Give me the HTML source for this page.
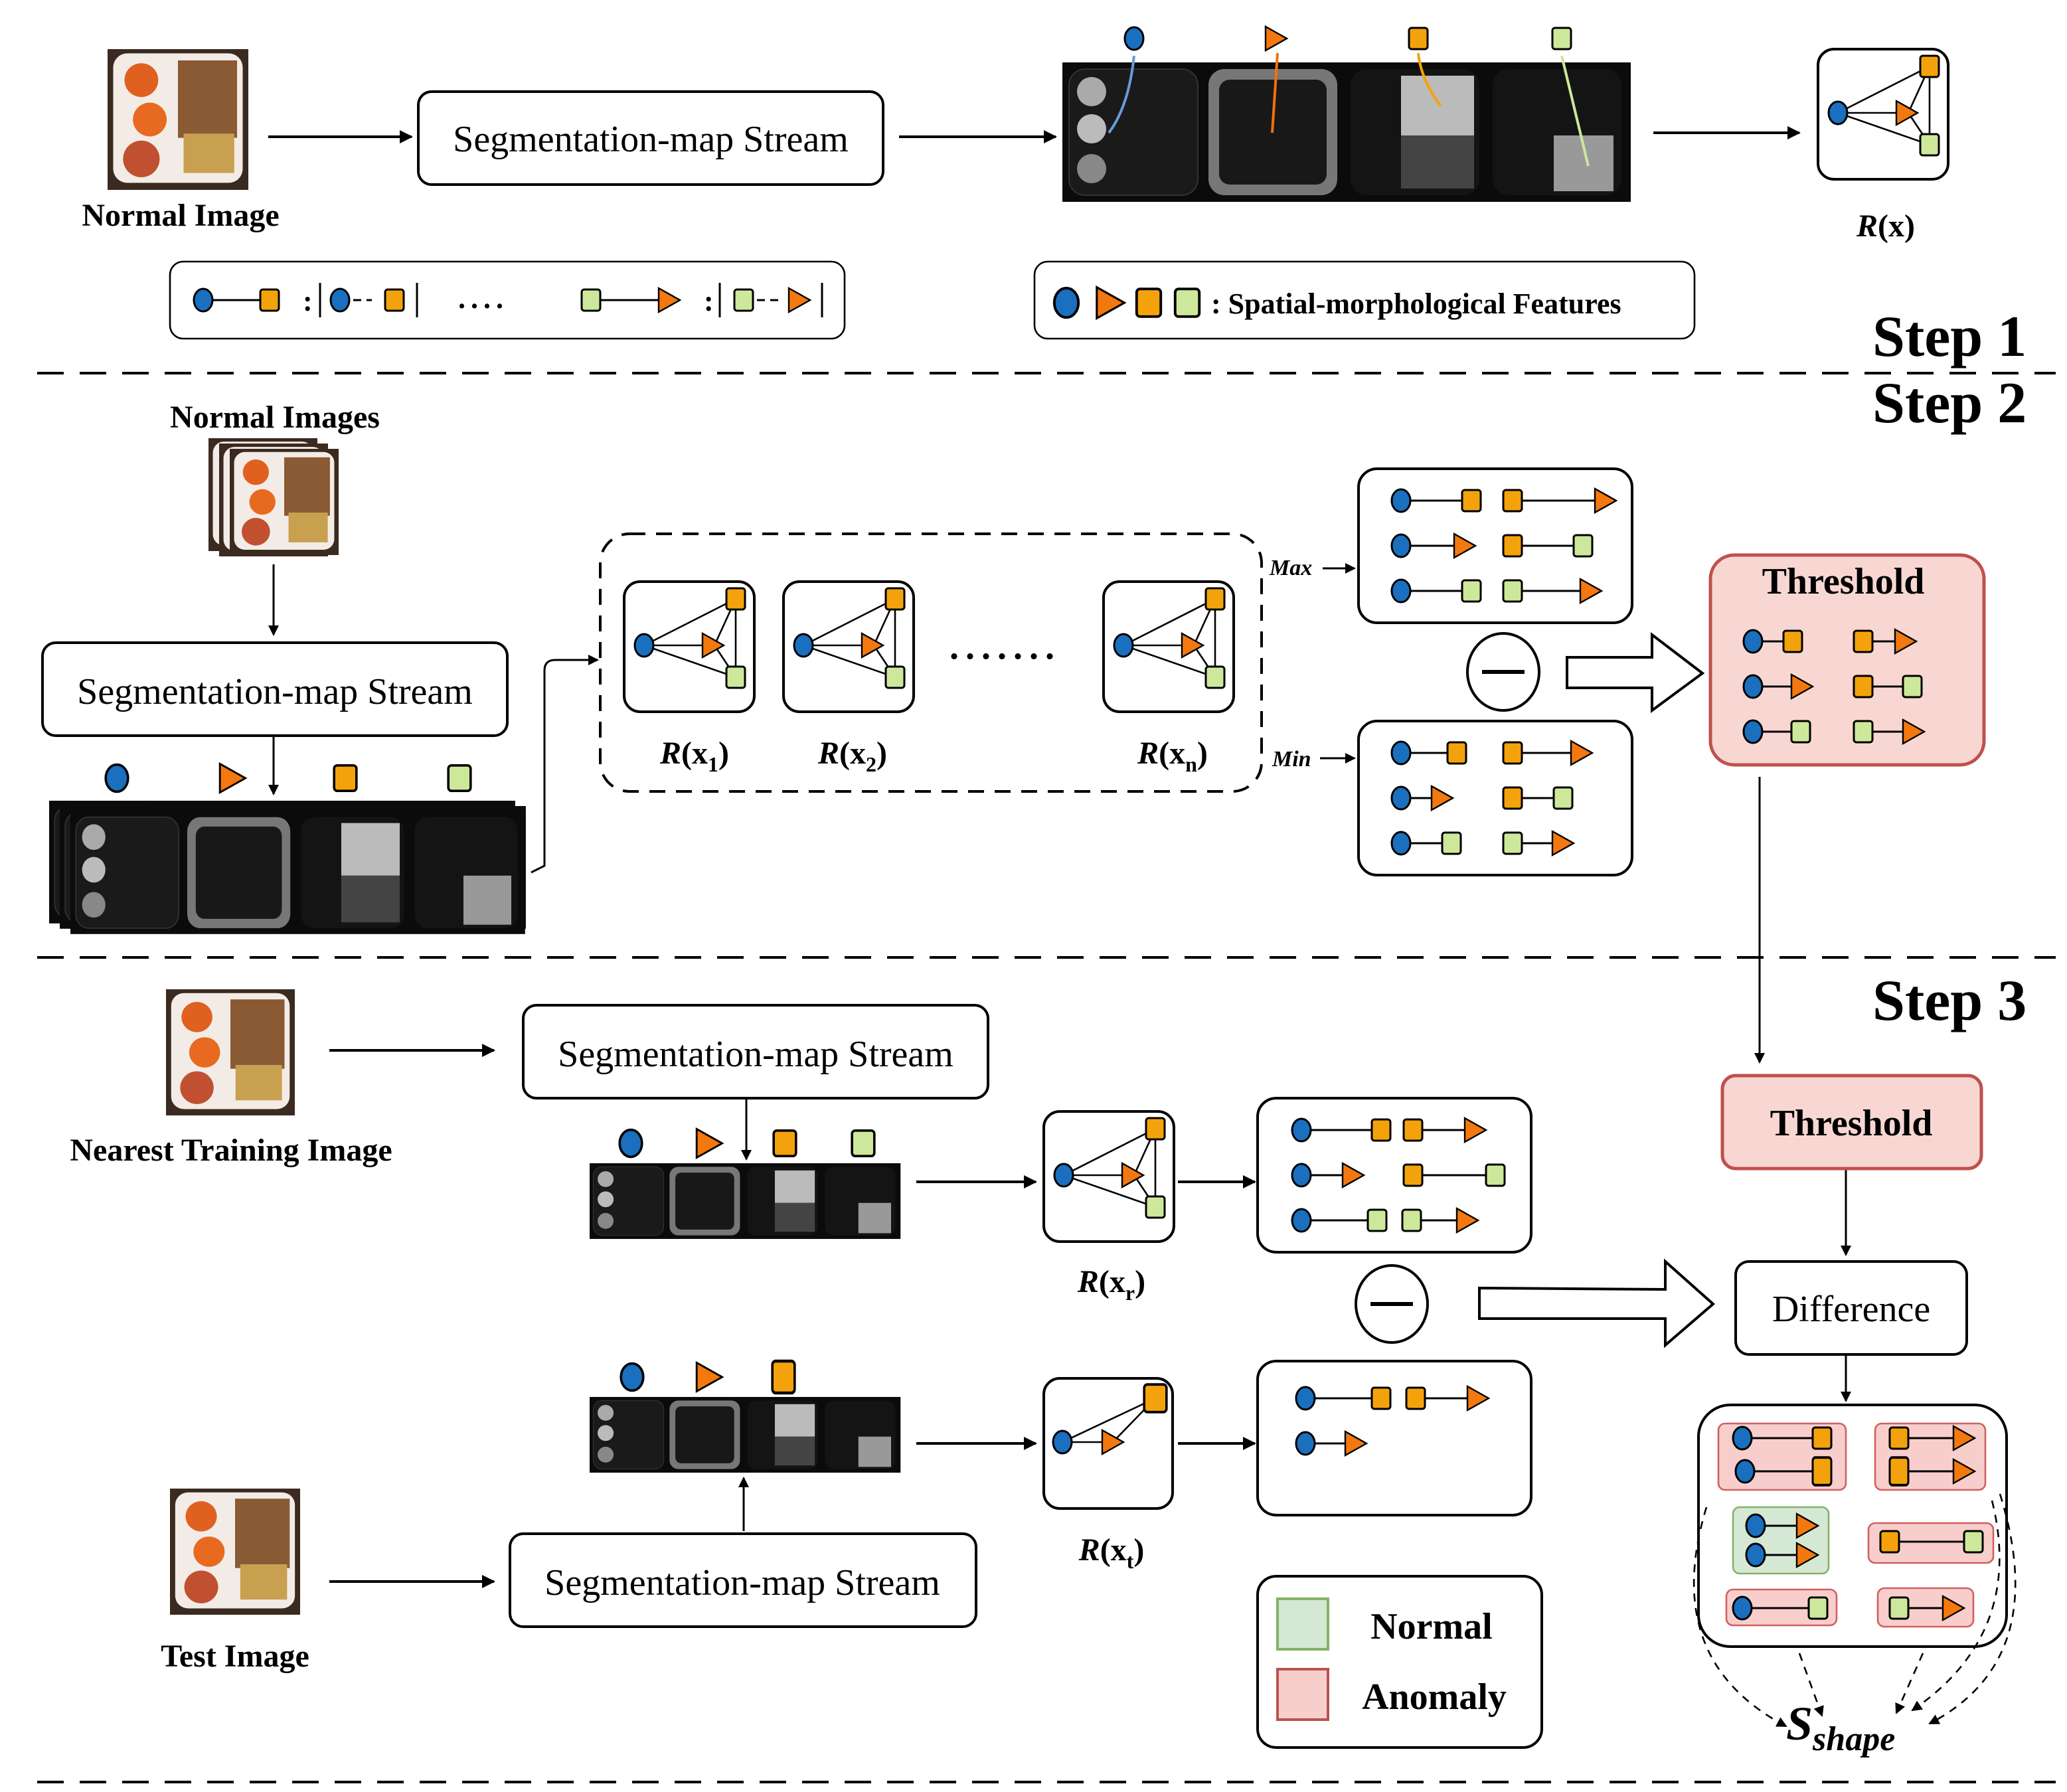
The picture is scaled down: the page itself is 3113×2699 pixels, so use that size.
<!DOCTYPE html>
<html><head><meta charset="utf-8"><style>html,body{margin:0;padding:0;background:#fff}svg{display:block}</style></head><body>
<svg xmlns="http://www.w3.org/2000/svg" width="3113" height="2699" viewBox="0 0 1556.5 1349.5" font-family="'Liberation Serif',serif">
<defs>
<marker id="ah" markerWidth="10" markerHeight="10" refX="9" refY="5" orient="auto" markerUnits="userSpaceOnUse"><path d="M0,0 L10,5 L0,10Z" fill="#000"/></marker>
<marker id="ahs" markerWidth="8" markerHeight="8" refX="7" refY="4" orient="auto" markerUnits="userSpaceOnUse"><path d="M0,0 L8,4 L0,8Z" fill="#000"/></marker>
<g id="c"><ellipse rx="7" ry="8.5" fill="#1a6fbf" stroke="#000" stroke-width="1.5"/></g>
<g id="o"><rect x="-7" y="-8" width="14" height="16" rx="2" fill="#f4a20c" stroke="#000" stroke-width="1.5"/></g>
<g id="g"><rect x="-7" y="-8" width="14" height="16" rx="2" fill="#cde89a" stroke="#000" stroke-width="1.5"/></g>
<g id="t"><path d="M-7,-9 L9,0 L-7,9Z" fill="#f3780f" stroke="#000" stroke-width="1.2"/></g>
<g id="G"><rect x="0" y="0" width="98" height="98" rx="12" fill="#fff" stroke="#000" stroke-width="2"/>
<g stroke="#000" stroke-width="1.3"><line x1="15" y1="48" x2="84" y2="13"/><line x1="15" y1="48" x2="84" y2="72"/><line x1="15" y1="48" x2="60" y2="48"/><line x1="84" y1="13" x2="84" y2="72"/><line x1="84" y1="13" x2="68" y2="48"/><line x1="68" y1="48" x2="84" y2="72"/></g>
<use href="#c" x="15" y="48"/><use href="#t" x="66" y="48"/><use href="#o" x="84" y="13"/><use href="#g" x="84" y="72"/></g>
<g id="food"><rect x="0" y="0" width="100" height="100" fill="#3a2a20"/><rect x="4" y="3" width="92" height="92" rx="10" fill="#f3ece6"/><rect x="50" y="8" width="42" height="55" fill="#8a5a35"/><rect x="54" y="60" width="36" height="28" fill="#c9a050"/><circle cx="24" cy="22" r="12" fill="#e06020"/><circle cx="30" cy="50" r="12" fill="#e86a20"/><circle cx="24" cy="78" r="13" fill="#c05030"/></g>
<g id="strip4"><rect x="0" y="0" width="428" height="105" fill="#0b0b0b"/><rect x="5" y="5" width="97" height="95" rx="12" fill="#1a1a1a" stroke="#333"/><circle cx="22" cy="22" r="11" fill="#aaa"/><circle cx="22" cy="50" r="11" fill="#bbb"/><circle cx="22" cy="80" r="11" fill="#888"/><rect x="110" y="5" width="97" height="95" rx="12" fill="#777"/><rect x="118" y="13" width="81" height="79" rx="8" fill="#181818"/><rect x="217" y="5" width="97" height="95" rx="12" fill="#141414"/><rect x="255" y="10" width="55" height="45" fill="#bbb"/><rect x="255" y="55" width="55" height="40" fill="#444"/><rect x="324" y="5" width="97" height="95" rx="12" fill="#141414"/><rect x="370" y="55" width="45" height="42" fill="#999"/></g>
</defs>

<g stroke="#000" stroke-width="2" stroke-dasharray="20,12"><line x1="28" y1="281" x2="1548" y2="281"/><line x1="28" y1="721" x2="1548" y2="721"/><line x1="28" y1="1342" x2="1548" y2="1342"/></g>
<g font-weight="bold" font-size="44"><text x="1410" y="268">Step 1</text><text x="1410" y="318">Step 2</text><text x="1410" y="768">Step 3</text></g>

<!-- STEP 1 -->
<use href="#food" transform="translate(81,37) scale(1.06)"/>
<text x="136" y="170" font-size="24" font-weight="bold" text-anchor="middle">Normal Image</text>
<g stroke="#000" stroke-width="2" marker-end="url(#ah)"><line x1="202" y1="103" x2="310" y2="103"/><line x1="677" y1="103" x2="795" y2="103"/><line x1="1245" y1="100" x2="1355" y2="100"/></g>
<rect x="315" y="69" width="350" height="70" rx="10" fill="#fff" stroke="#000" stroke-width="2"/>
<text x="490" y="114" font-size="28" text-anchor="middle">Segmentation-map Stream</text>
<use href="#strip4" x="800" y="47"/>
<path d="M835,100 Q850,80 854,42" stroke="#6a9ad8" stroke-width="2" fill="none"/>
<path d="M958,100 L962,40" stroke="#f07010" stroke-width="2" fill="none"/>
<path d="M1085,80 Q1070,60 1068,40" stroke="#f4a20c" stroke-width="2" fill="none"/>
<path d="M1196,125 L1176,42" stroke="#cde89a" stroke-width="2" fill="none"/>
<use href="#c" x="854" y="29"/><use href="#t" x="960" y="29"/><use href="#o" x="1068" y="29"/><use href="#g" x="1176" y="29"/>
<use href="#G" x="1369" y="37"/>
<text x="1420" y="178" font-size="24" font-weight="bold" text-anchor="middle"><tspan font-style="italic">R</tspan>(x)</text>
<rect x="128" y="197" width="508" height="58" rx="10" fill="#fff" stroke="#000" stroke-width="1.3"/>
<g stroke="#000" stroke-width="1.5"><line x1="153" y1="226" x2="203" y2="226"/><line x1="256" y1="226" x2="280" y2="226" stroke-dasharray="6,4"/><line x1="241" y1="213" x2="241" y2="239"/><line x1="314" y1="213" x2="314" y2="239"/><line x1="445" y1="226" x2="505" y2="226"/><line x1="560" y1="226" x2="590" y2="226" stroke-dasharray="6,4"/><line x1="542" y1="213" x2="542" y2="239"/><line x1="619" y1="213" x2="619" y2="239"/></g>
<use href="#c" x="153" y="226"/><use href="#o" x="203" y="226"/><use href="#c" x="256" y="226"/><use href="#o" x="297" y="226"/><use href="#g" x="445" y="226"/><use href="#t" x="503" y="226"/><use href="#g" x="560" y="226"/><use href="#t" x="601" y="226"/>
<text x="228" y="234" font-size="22" font-weight="bold">:</text><text x="530" y="234" font-size="22" font-weight="bold">:</text>
<text x="345" y="232" font-size="22" font-weight="bold" letter-spacing="4">....</text>
<rect x="779" y="197" width="497" height="58" rx="10" fill="#fff" stroke="#000" stroke-width="1.3"/>
<use href="#c" transform="translate(803,228) scale(1.3)"/><use href="#t" transform="translate(835,228) scale(1.3)"/><use href="#o" transform="translate(865,228) scale(1.3)"/><use href="#g" transform="translate(894,228) scale(1.3)"/>
<text x="912" y="236" font-size="22" font-weight="bold">: Spatial-morphological Features</text>

<!-- STEP 2 -->
<text x="207" y="322" font-size="24" font-weight="bold" text-anchor="middle">Normal Images</text>
<use href="#food" transform="translate(157,330) scale(0.82,0.85)"/>
<use href="#food" transform="translate(165,334) scale(0.82,0.85)"/>
<use href="#food" transform="translate(173,338) scale(0.82,0.8)"/>
<g stroke="#000" stroke-width="1.5" marker-end="url(#ahs)"><line x1="206" y1="425" x2="206" y2="478"/><line x1="206" y1="554" x2="206" y2="598"/></g>
<rect x="32" y="484" width="350" height="70" rx="10" fill="#fff" stroke="#000" stroke-width="2"/>
<text x="207" y="530" font-size="28" text-anchor="middle">Segmentation-map Stream</text>
<use href="#strip4" transform="translate(37,603) scale(0.82,0.88)"/>
<use href="#strip4" transform="translate(45,607) scale(0.82,0.88)"/>
<use href="#strip4" transform="translate(53,611) scale(0.8,0.88)"/>
<use href="#c" transform="translate(88,586) scale(1.2)"/><use href="#t" transform="translate(174,586) scale(1.2)"/><use href="#o" transform="translate(260,586) scale(1.2)"/><use href="#g" transform="translate(346,586) scale(1.2)"/>
<path d="M400,657 L410,652 L410,505 Q410,497 418,497 L450,497" stroke="#000" stroke-width="1.5" fill="none" marker-end="url(#ahs)"/>
<rect x="452" y="402" width="498" height="194" rx="22" fill="none" stroke="#000" stroke-width="2" stroke-dasharray="12,8"/>
<use href="#G" x="470" y="438"/><use href="#G" x="590" y="438"/><use href="#G" x="831" y="438"/>
<text x="715" y="496" font-size="28" font-weight="bold" letter-spacing="5">.......</text>
<g font-size="24" font-weight="bold" text-anchor="middle"><text x="523" y="575"><tspan font-style="italic">R</tspan>(x<tspan font-size="16" dy="6">1</tspan><tspan dy="-6">)</tspan></text><text x="642" y="575"><tspan font-style="italic">R</tspan>(x<tspan font-size="16" dy="6">2</tspan><tspan dy="-6">)</tspan></text><text x="883" y="575"><tspan font-style="italic">R</tspan>(x<tspan font-size="16" dy="6">n</tspan><tspan dy="-6">)</tspan></text></g>
<text x="956" y="433" font-size="17" font-style="italic" font-weight="bold">Max</text><text x="958" y="577" font-size="17" font-style="italic" font-weight="bold">Min</text>
<g stroke="#000" stroke-width="1.5" marker-end="url(#ahs)"><line x1="996" y1="428" x2="1020" y2="428"/><line x1="994" y1="571" x2="1020" y2="571"/></g>
<rect x="1023" y="353" width="206" height="116" rx="14" fill="#fff" stroke="#000" stroke-width="2"/>
<rect x="1023" y="543" width="206" height="116" rx="14" fill="#fff" stroke="#000" stroke-width="2"/>
<rect x="1288" y="418" width="206" height="158" rx="18" fill="#f8d7d3" stroke="#c0504d" stroke-width="2.5"/>
<text x="1388" y="447" font-size="28" font-weight="bold" text-anchor="middle">Threshold</text>
<g stroke="#000" stroke-width="1.5">
<line x1="1055" y1="377" x2="1108" y2="377"/><line x1="1139" y1="377" x2="1206" y2="377"/><line x1="1055" y1="411" x2="1098" y2="411"/><line x1="1139" y1="411" x2="1192" y2="411"/><line x1="1055" y1="445" x2="1108" y2="445"/><line x1="1139" y1="445" x2="1195" y2="445"/>
<line x1="1055" y1="567" x2="1097" y2="567"/><line x1="1139" y1="567" x2="1188" y2="567"/><line x1="1055" y1="601" x2="1082" y2="601"/><line x1="1139" y1="601" x2="1177" y2="601"/><line x1="1055" y1="635" x2="1093" y2="635"/><line x1="1139" y1="635" x2="1174" y2="635"/>
<line x1="1320" y1="483" x2="1350" y2="483"/><line x1="1403" y1="483" x2="1432" y2="483"/><line x1="1320" y1="517" x2="1354" y2="517"/><line x1="1403" y1="517" x2="1440" y2="517"/><line x1="1320" y1="551" x2="1356" y2="551"/><line x1="1403" y1="551" x2="1438" y2="551"/>
</g>
<use href="#c" x="1055" y="377"/><use href="#o" x="1108" y="377"/><use href="#o" x="1139" y="377"/><use href="#t" x="1208" y="377"/>
<use href="#c" x="1055" y="411"/><use href="#t" x="1102" y="411"/><use href="#o" x="1139" y="411"/><use href="#g" x="1192" y="411"/>
<use href="#c" x="1055" y="445"/><use href="#g" x="1108" y="445"/><use href="#g" x="1139" y="445"/><use href="#t" x="1197" y="445"/>
<use href="#c" x="1055" y="567"/><use href="#o" x="1097" y="567"/><use href="#o" x="1139" y="567"/><use href="#t" x="1190" y="567"/>
<use href="#c" x="1055" y="601"/><use href="#t" x="1085" y="601"/><use href="#o" x="1139" y="601"/><use href="#g" x="1177" y="601"/>
<use href="#c" x="1055" y="635"/><use href="#g" x="1093" y="635"/><use href="#g" x="1139" y="635"/><use href="#t" x="1176" y="635"/>
<ellipse cx="1132" cy="506" rx="27" ry="29" fill="#fff" stroke="#000" stroke-width="2"/><line x1="1116" y1="506" x2="1148" y2="506" stroke="#000" stroke-width="3"/>
<path d="M1180,495 L1244,495 L1244,478 L1282,507 L1244,535 L1244,518 L1180,518Z" fill="#fff" stroke="#000" stroke-width="2"/>
<use href="#c" x="1320" y="483"/><use href="#o" x="1350" y="483"/><use href="#o" x="1403" y="483"/><use href="#t" x="1434" y="483"/>
<use href="#c" x="1320" y="517"/><use href="#t" x="1356" y="517"/><use href="#o" x="1403" y="517"/><use href="#g" x="1440" y="517"/>
<use href="#c" x="1320" y="551"/><use href="#g" x="1356" y="551"/><use href="#g" x="1403" y="551"/><use href="#t" x="1440" y="551"/>
<line x1="1325" y1="585" x2="1325" y2="800" stroke="#000" stroke-width="1.5" marker-end="url(#ahs)"/>

<!-- STEP 3 -->
<use href="#food" transform="translate(125,745) scale(0.97,0.95)"/>
<text x="174" y="874" font-size="24" font-weight="bold" text-anchor="middle">Nearest Training Image</text>
<g stroke="#000" stroke-width="2" marker-end="url(#ah)"><line x1="248" y1="791" x2="372" y2="791"/><line x1="690" y1="890" x2="780" y2="890"/><line x1="887" y1="890" x2="945" y2="890"/><line x1="248" y1="1191" x2="372" y2="1191"/><line x1="690" y1="1087" x2="780" y2="1087"/><line x1="887" y1="1087" x2="945" y2="1087"/></g>
<g stroke="#000" stroke-width="1.5" marker-end="url(#ahs)"><line x1="562" y1="827" x2="562" y2="873"/><line x1="560" y1="1153" x2="560" y2="1113"/><line x1="1390" y1="880" x2="1390" y2="945"/><line x1="1390" y1="1020" x2="1390" y2="1055"/></g>
<rect x="394" y="757" width="350" height="70" rx="10" fill="#fff" stroke="#000" stroke-width="2"/>
<text x="569" y="803" font-size="28" text-anchor="middle">Segmentation-map Stream</text>
<use href="#strip4" transform="translate(444,876) scale(0.547,0.543)"/>
<use href="#c" transform="translate(475,861) scale(1.2)"/><use href="#t" transform="translate(533,861) scale(1.2)"/><use href="#o" transform="translate(591,861) scale(1.2)"/><use href="#g" transform="translate(650,861) scale(1.2)"/>
<use href="#G" x="786" y="837"/>
<text x="837" y="973" font-size="24" font-weight="bold" text-anchor="middle"><tspan font-style="italic">R</tspan>(x<tspan font-size="16" dy="6">r</tspan><tspan dy="-6">)</tspan></text>
<rect x="947" y="827" width="206" height="116" rx="14" fill="#fff" stroke="#000" stroke-width="2"/>
<rect x="947" y="1025" width="206" height="116" rx="14" fill="#fff" stroke="#000" stroke-width="2"/>
<g stroke="#000" stroke-width="1.5"><line x1="980" y1="851" x2="1040" y2="851"/><line x1="1064" y1="851" x2="1108" y2="851"/><line x1="980" y1="885" x2="1015" y2="885"/><line x1="1064" y1="885" x2="1126" y2="885"/><line x1="980" y1="919" x2="1037" y2="919"/><line x1="1063" y1="919" x2="1102" y2="919"/>
<line x1="983" y1="1053" x2="1040" y2="1053"/><line x1="1066" y1="1053" x2="1110" y2="1053"/><line x1="983" y1="1087" x2="1017" y2="1087"/></g>
<use href="#c" x="980" y="851"/><use href="#o" x="1040" y="851"/><use href="#o" x="1064" y="851"/><use href="#t" x="1110" y="851"/>
<use href="#c" x="980" y="885"/><use href="#t" x="1018" y="885"/><use href="#o" x="1064" y="885"/><use href="#g" x="1126" y="885"/>
<use href="#c" x="980" y="919"/><use href="#g" x="1037" y="919"/><use href="#g" x="1063" y="919"/><use href="#t" x="1104" y="919"/>
<ellipse cx="1048" cy="982" rx="27" ry="29" fill="#fff" stroke="#000" stroke-width="2"/><line x1="1032" y1="982" x2="1064" y2="982" stroke="#000" stroke-width="3"/>
<path d="M1114,970 L1254,971 L1254,950 L1290,982 L1254,1013 L1254,993 L1114,993Z" fill="#fff" stroke="#000" stroke-width="2"/>
<rect x="1297" y="810" width="195" height="70" rx="10" fill="#f8d7d3" stroke="#c0504d" stroke-width="2.5"/>
<text x="1394" y="855" font-size="28" font-weight="bold" text-anchor="middle">Threshold</text>
<rect x="1307" y="950" width="174" height="70" rx="10" fill="#fff" stroke="#000" stroke-width="2"/>
<text x="1394" y="995" font-size="28" text-anchor="middle">Difference</text>
<use href="#strip4" transform="translate(444,1052) scale(0.547,0.543)"/>
<use href="#c" transform="translate(476,1037) scale(1.2)"/><use href="#t" transform="translate(533,1037) scale(1.2)"/><use href="#o" transform="translate(590,1037) scale(1.2,1.5)"/>
<use href="#food" transform="translate(128,1121) scale(0.98,0.95)"/>
<text x="177" y="1255" font-size="24" font-weight="bold" text-anchor="middle">Test Image</text>
<rect x="384" y="1155" width="351" height="70" rx="10" fill="#fff" stroke="#000" stroke-width="2"/>
<text x="559" y="1201" font-size="28" text-anchor="middle">Segmentation-map Stream</text>
<rect x="786" y="1038" width="97" height="98" rx="12" fill="#fff" stroke="#000" stroke-width="2"/>
<g stroke="#000" stroke-width="1.3"><line x1="800" y1="1086" x2="870" y2="1053"/><line x1="800" y1="1086" x2="830" y2="1086"/><line x1="870" y1="1053" x2="838" y2="1086"/></g>
<use href="#c" x="800" y="1086"/><use href="#t" x="837" y="1086"/><use href="#o" transform="translate(870,1053) scale(1.2,1.3)"/>
<text x="837" y="1175" font-size="24" font-weight="bold" text-anchor="middle"><tspan font-style="italic">R</tspan>(x<tspan font-size="16" dy="6">t</tspan><tspan dy="-6">)</tspan></text>
<use href="#c" x="983" y="1053"/><use href="#o" x="1040" y="1053"/><use href="#o" x="1066" y="1053"/><use href="#t" x="1112" y="1053"/>
<use href="#c" x="983" y="1087"/><use href="#t" x="1020" y="1087"/>
<rect x="947" y="1187" width="214" height="129" rx="14" fill="#fff" stroke="#000" stroke-width="2"/>
<rect x="962" y="1204" width="38" height="38" fill="#d5e8d4" stroke="#82b366" stroke-width="2"/>
<rect x="962" y="1257" width="38" height="38" fill="#f8cecc" stroke="#b85450" stroke-width="2"/>
<text x="1078" y="1234" font-size="28" font-weight="bold" text-anchor="middle">Normal</text>
<text x="1080" y="1287" font-size="28" font-weight="bold" text-anchor="middle">Anomaly</text>
<rect x="1279" y="1058" width="232" height="182" rx="24" fill="#fff" stroke="#000" stroke-width="2"/>
<g stroke-width="1.3">
<rect x="1294" y="1072" width="96" height="50" rx="5" fill="#f8cecc" stroke="#d06060"/>
<rect x="1412" y="1072" width="83" height="50" rx="5" fill="#f8cecc" stroke="#d06060"/>
<rect x="1305" y="1135" width="72" height="50" rx="5" fill="#d5e8d4" stroke="#82b366"/>
<rect x="1407" y="1147" width="94" height="30" rx="5" fill="#f8cecc" stroke="#d06060"/>
<rect x="1300" y="1197" width="83" height="27" rx="5" fill="#f8cecc" stroke="#d06060"/>
<rect x="1414" y="1196" width="72" height="29" rx="5" fill="#f8cecc" stroke="#d06060"/>
</g>
<g stroke="#000" stroke-width="1.5"><line x1="1312" y1="1083" x2="1372" y2="1083"/><line x1="1314" y1="1108" x2="1372" y2="1108"/><line x1="1430" y1="1083" x2="1476" y2="1083"/><line x1="1430" y1="1108" x2="1476" y2="1108"/><line x1="1322" y1="1149" x2="1358" y2="1149"/><line x1="1322" y1="1171" x2="1358" y2="1171"/><line x1="1423" y1="1161" x2="1486" y2="1161"/><line x1="1312" y1="1211" x2="1369" y2="1211"/><line x1="1430" y1="1211" x2="1468" y2="1211"/></g>
<use href="#c" x="1312" y="1083"/><use href="#o" x="1372" y="1083"/><use href="#c" x="1314" y="1108"/><use href="#o" transform="translate(1372,1108) scale(1,1.3)"/>
<use href="#o" x="1430" y="1083"/><use href="#t" x="1478" y="1083"/><use href="#o" transform="translate(1430,1108) scale(1,1.3)"/><use href="#t" x="1478" y="1108"/>
<use href="#c" x="1322" y="1149"/><use href="#t" x="1360" y="1149"/><use href="#c" x="1322" y="1171"/><use href="#t" x="1360" y="1171"/>
<use href="#o" x="1423" y="1161"/><use href="#g" x="1486" y="1161"/>
<use href="#c" x="1312" y="1211"/><use href="#g" x="1369" y="1211"/>
<use href="#g" x="1430" y="1211"/><use href="#t" x="1470" y="1211"/>
<g stroke="#000" stroke-width="1.3" fill="none" stroke-dasharray="6,5" marker-end="url(#ahs)">
<path d="M1355,1245 L1372,1292"/><path d="M1448,1245 L1428,1290"/>
<path d="M1285,1135 Q1250,1250 1345,1300"/>
<path d="M1500,1130 Q1525,1230 1440,1288"/>
<path d="M1506,1125 Q1545,1250 1453,1298"/>
</g>
<text x="1345" y="1310" font-size="36" font-style="italic" font-weight="bold">S<tspan font-size="26" dy="8">shape</tspan></text>
</svg>
</body></html>
